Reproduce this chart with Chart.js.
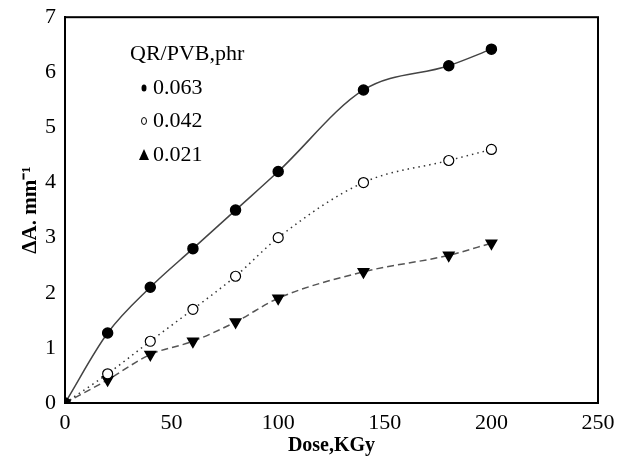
<!DOCTYPE html>
<html>
<head>
<meta charset="utf-8">
<script src="https://cdn.jsdelivr.net/npm/chart.js@4.4.1/dist/chart.umd.min.js"></script>
<style>
  html,body{margin:0;padding:0;background:#fff;}
  #wrap{width:620px;height:462px;position:relative;}
</style>
</head>
<body>
<div id="wrap"><canvas id="c" width="620" height="462"></canvas></div>
<script>
// データ
const dose = [0, 20, 40, 60, 80, 100, 140, 180, 200];
const s063 = [0, 1.27, 2.1, 2.8, 3.5, 4.2, 5.68, 6.12, 6.42];
const s042 = [0, 0.53, 1.12, 1.7, 2.3, 3.0, 4.0, 4.4, 4.6];
const s021 = [0, 0.42, 0.88, 1.12, 1.47, 1.9, 2.38, 2.68, 2.9];
const seriesNames = ['0.063', '0.042', '0.021'];
const legendTitle = 'QR/PVB,phr';

const pts = (ys) => dose.map((x, i) => ({x: x, y: ys[i]}));
const serif = "'Liberation Serif','Times New Roman',serif";

// 枠線と凡例
const framePlugin = {
    id: 'frame',
    afterDraw(chart) {
        const ctx = chart.ctx;
        const a = chart.chartArea;
        ctx.save();
        ctx.strokeStyle = '#000';
        ctx.lineWidth = 2;
        ctx.strokeRect(a.left, a.top, a.right - a.left, a.bottom - a.top);

        // legend
        ctx.fillStyle = '#000';
        ctx.font = '22px ' + serif;
        ctx.textBaseline = 'middle';
        ctx.textAlign = 'left';
        ctx.fillText(legendTitle, 130, 54);
        const rows = [88, 121, 155];
        ctx.fillText(seriesNames[0], 153, rows[0]);
        ctx.fillText(seriesNames[1], 153, rows[1]);
        ctx.fillText(seriesNames[2], 153, rows[2]);
        // markers
        ctx.beginPath();
        ctx.ellipse(144, rows[0], 2.5, 3.5, 0, 0, Math.PI * 2);
        ctx.fill();
        ctx.beginPath();
        ctx.lineWidth = 1;
        ctx.ellipse(144, rows[1], 2.5, 3.5, 0, 0, Math.PI * 2);
        ctx.stroke();
        ctx.beginPath();
        ctx.moveTo(144, rows[2] - 6);
        ctx.lineTo(149, rows[2] + 5);
        ctx.lineTo(139, rows[2] + 5);
        ctx.closePath();
        ctx.fill();
        ctx.restore();
    }
};

const config = {
    type: 'line',
    data: {
        datasets: [
            {
                label: seriesNames[0],
                data: pts(s063),
                borderColor: '#444',
                borderWidth: 1.5,
                pointStyle: 'circle',
                pointRadius: 5,
                pointBackgroundColor: '#000',
                pointBorderColor: '#000',
                cubicInterpolationMode: 'monotone'
            },
            {
                label: seriesNames[1],
                data: pts(s042),
                borderColor: '#333',
                borderWidth: 1.5,
                borderDash: [1.5, 4],
                pointStyle: 'circle',
                pointRadius: 5,
                pointBackgroundColor: '#fff',
                pointBorderColor: '#000',
                pointBorderWidth: 1.2,
                cubicInterpolationMode: 'monotone'
            },
            {
                label: seriesNames[2],
                data: pts(s021),
                borderColor: '#555',
                borderWidth: 1.5,
                borderDash: [7, 4],
                pointStyle: 'triangle',
                pointRotation: 180,
                pointRadius: 6,
                pointBackgroundColor: '#000',
                pointBorderColor: '#000',
                cubicInterpolationMode: 'monotone'
            }
        ]
    },
    options: {
        responsive: false,
        animation: false,
        layout: {padding: {top: 16, right: 22, left: 0, bottom: 0}},
        plugins: {
            legend: {display: false},
            tooltip: {enabled: false}
        },
        scales: {
            x: {
                type: 'linear',
                min: 0,
                max: 250,
                ticks: {stepSize: 50, color: '#000', font: {family: serif, size: 22}, padding: 1},
                grid: {display: false, drawTicks: true, tickLength: 6, tickColor: '#000'},
                border: {display: true, color: '#000', width: 2},
                title: {display: true, text: 'Dose,KGy', color: '#000', font: {family: serif, size: 20, weight: 'bold'}, padding: {top: 0}},
                afterFit(s) { s.height = 59; }
            },
            y: {
                min: 0,
                max: 7,
                ticks: {stepSize: 1, color: '#000', font: {family: serif, size: 22}, padding: 4},
                grid: {display: false, drawTicks: true, tickLength: 5, tickColor: '#000'},
                border: {display: true, color: '#000', width: 2},
                title: {display: true, text: 'ΔA. mm⁻¹', color: '#000', font: {family: serif, size: 21, weight: 'bold'}, padding: {top: 18, bottom: 0}},
                afterFit(s) { s.width = 65; }
            }
        }
    },
    plugins: [framePlugin]
};

document.addEventListener('DOMContentLoaded', function() {
    const ctx = document.getElementById('c').getContext('2d');
    new Chart(ctx, config);
});
</script>
</body>
</html>
